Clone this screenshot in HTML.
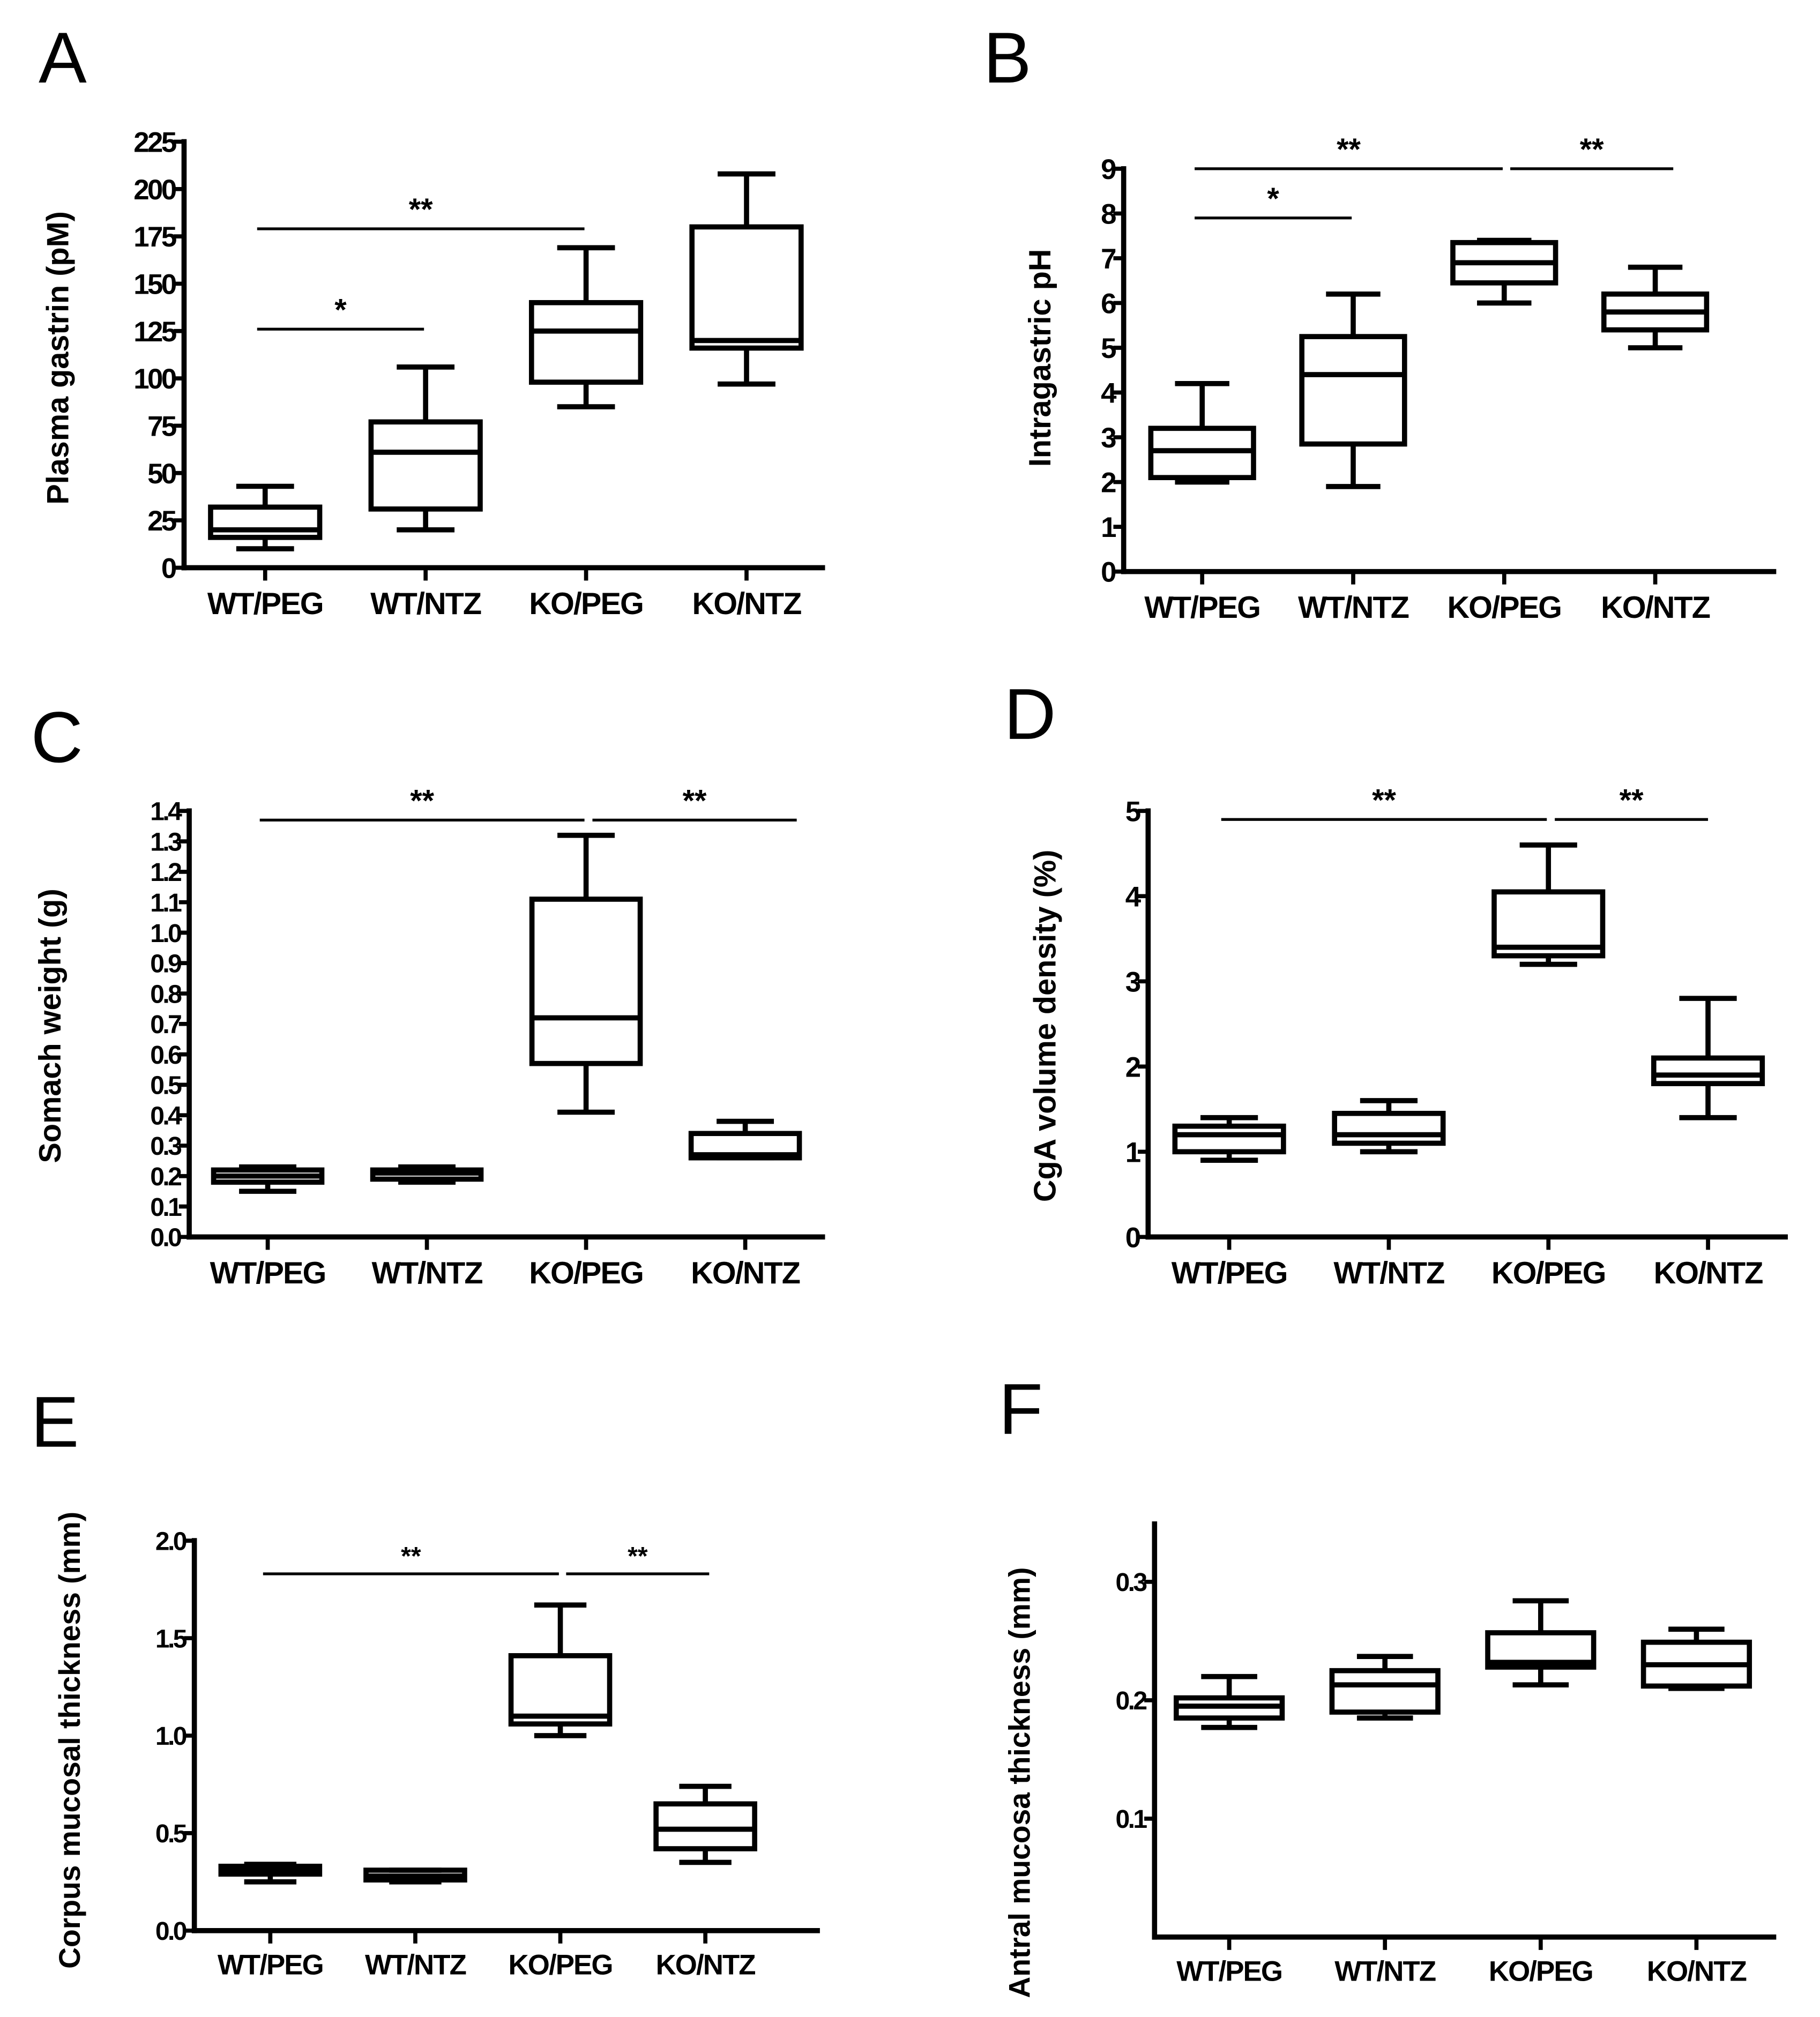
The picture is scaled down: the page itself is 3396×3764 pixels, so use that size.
<!DOCTYPE html>
<html><head><meta charset="utf-8"><style>
html,body{margin:0;padding:0;background:#fff;}
svg{display:block;}
text{font-family:"Liberation Sans",Arial,sans-serif;fill:#000;}
</style></head><body>
<svg id="fig" width="3396" height="3764" viewBox="0 0 1414 1567" xmlns="http://www.w3.org/2000/svg"></svg>
<script>
const categories = ["WT/PEG","WT/NTZ","KO/PEG","KO/NTZ"];
// five-number rows: [min,q1,median,q3,max]
const aBoxes = [[10,16,20,32,43],[20,31,61,77,106],[85,98,125,140,169],[97,116,120,180,208]];
const aTicks = [0,25,50,75,100,125,150,175,200,225];
const aSig = [[0,2,179,"**"],[0,1,126,"*"]];
const bBoxes = [[2.0,2.1,2.7,3.2,4.2],[1.9,2.85,4.4,5.25,6.2],[6.0,6.45,6.9,7.35,7.4],[5.0,5.4,5.8,6.2,6.8]];
const bTicks = [0,1,2,3,4,5,6,7,8,9];
const bSig = [[0,2,9.0,"**"],[2,3,9.0,"**"],[0,1,7.9,"*"]];
const cBoxes = [[0.15,0.18,0.20,0.22,0.23],[0.18,0.19,0.21,0.22,0.23],[0.41,0.57,0.72,1.11,1.32],[0.26,0.26,0.27,0.34,0.38]];
const cTicks = ["0.0","0.1","0.2","0.3","0.4","0.5","0.6","0.7","0.8","0.9","1.0","1.1","1.2","1.3","1.4"];
const cSig = [[0,2,1.37,"**"],[2,3,1.37,"**"]];
const dBoxes = [[0.9,1.0,1.2,1.3,1.4],[1.0,1.1,1.2,1.45,1.6],[3.2,3.3,3.4,4.05,4.6],[1.4,1.8,1.9,2.1,2.8]];
const dTicks = [0,1,2,3,4,5];
const dSig = [[0,2,4.9,"**"],[2,3,4.9,"**"]];
const eBoxes = [[0.25,0.29,0.31,0.33,0.34],[0.25,0.26,0.28,0.31,0.31],[1.0,1.06,1.1,1.41,1.67],[0.35,0.42,0.52,0.65,0.74]];
const eTicks = ["0.0","0.5","1.0","1.5","2.0"];
const eSig = [[0,2,1.83,"**"],[2,3,1.83,"**"]];
const fBoxes = [[0.177,0.185,0.195,0.202,0.22],[0.185,0.19,0.213,0.225,0.237],[0.213,0.228,0.232,0.257,0.284],[0.21,0.212,0.23,0.249,0.26]];
const fTicks = ["0.1","0.2","0.3"];
const fSig = [];

const NS="http://www.w3.org/2000/svg";
const svg=document.getElementById('fig');
function mk(tag,attrs,parent,txt){const e=document.createElementNS(NS,tag);for(const k in attrs)e.setAttribute(k,attrs[k]);if(txt!==undefined)e.textContent=txt;(parent||svg).appendChild(e);return e;}

function panel(p){
  const g=mk('g',{});
  
  
  const y=v=>p.y0-(v-p.vmin)/(p.vmax-p.vmin)*(p.y0-p.y1);
  const sp=(p.cx[3]-p.cx[0])/3;
  const x=i=>p.cx[0]+i*sp;
  const hw=sp*0.34, cw=sp*0.18, lw=p.lw||4;
  const lab=mk('text',{x:p.lx,y:p.ly,'font-size':56},g,p.id);
  
  
  const ya=mk('line',{x1:p.ax,y1:p.ytop,x2:p.ax,y2:p.y0+lw/2,stroke:'#000','stroke-width':lw},g);
  
  
  const xa=mk('line',{x1:p.ax-lw/2,y1:p.y0,x2:p.xr,y2:p.y0,stroke:'#000','stroke-width':lw},g);
  
  
  p.ticks.forEach(t=>{
    const v=parseFloat(t), yy=y(v);
    const tk=mk('line',{x1:p.ax-8,y1:yy,x2:p.ax,y2:yy,stroke:'#000','stroke-width':lw*0.8},g);
    
    
    const tl=mk('text',{x:p.ax-7,y:yy+p.tfs*0.36,'font-size':p.tfs,'font-weight':'bold','text-anchor':'end','letter-spacing':'-1.5'},g,String(t));
    
    
  });
  const tt=mk('text',{x:0,y:0,'font-size':p.yfs,'font-weight':'bold','text-anchor':'middle',transform:`translate(${p.tx},${p.tyc}) rotate(-90)`},g,p.title);
  
  
  categories.forEach((c,i)=>{
    const tk=mk('line',{x1:x(i),y1:p.y0,x2:x(i),y2:p.y0+10,stroke:'#000','stroke-width':lw*0.8},g);
    
    
    const cl=mk('text',{x:x(i),y:p.y0+p.cfs+12,'font-size':p.cfs,'font-weight':'bold','text-anchor':'middle','letter-spacing':'-0.8'},g,c);
    
    
  });
  p.boxes.forEach((b,i)=>{
    const bg=mk('g',{stroke:'#000','stroke-width':lw,fill:'none'},g);
    
    
    const cx=x(i);
    mk('line',{x1:cx,y1:y(b[0]),x2:cx,y2:y(b[1])},bg);
    mk('line',{x1:cx,y1:y(b[3]),x2:cx,y2:y(b[4])},bg);
    mk('line',{x1:cx-cw,y1:y(b[0]),x2:cx+cw,y2:y(b[0])},bg);
    mk('line',{x1:cx-cw,y1:y(b[4]),x2:cx+cw,y2:y(b[4])},bg);
    mk('rect',{x:cx-hw,y:y(b[3]),width:hw*2,height:Math.max(0.5,y(b[1])-y(b[3]))},bg);
    mk('line',{x1:cx-hw,y1:y(b[2]),x2:cx+hw,y2:y(b[2])},bg);
  });
  p.sig.forEach(s=>{
    const x1=x(s[0])+(s[0]===0?-sp*0.05:sp*0.04), x2=x(s[1])+(s[1]===3?(p.endPad||0):-sp*0.01), yy=y(s[2]);
    const l=mk('line',{x1:x1,y1:yy,x2:x2,y2:yy,stroke:'#000','stroke-width':2.2},g);
    
    
    const st=mk('text',{x:(x1+x2)/2,y:yy-7,'font-size':p.sfs,'font-weight':'bold','text-anchor':'middle'},g,s[3]);
    
    
  });
}
panel({id:'A',lx:30,ly:64,ax:143,ytop:108,y0:441,y1:110,vmin:0,vmax:225,xr:641,cx:[206,330,455,580],ticks:aTicks,boxes:aBoxes,sig:aSig,title:'Plasma gastrin  (pM)',tx:53,tyc:278,tfs:22,yfs:24,cfs:24,sfs:24});
panel({id:'B',lx:764,ly:64,ax:873,ytop:129,y0:444,y1:131,vmin:0,vmax:9,xr:1380,cx:[934,1051,1168,1286],ticks:bTicks,boxes:bBoxes,sig:bSig,title:'Intragastric pH',tx:816,tyc:278,tfs:22,yfs:24,cfs:24,sfs:24,endPad:14});
panel({id:'C',lx:24,ly:592,ax:147,ytop:628,y0:961,y1:630,vmin:0,vmax:1.4,xr:641,cx:[208,331,456,579],ticks:cTicks,boxes:cBoxes,sig:cSig,title:'Somach weight (g)',tx:47,tyc:797,tfs:20,yfs:24,cfs:24,sfs:24,endPad:40});
panel({id:'D',lx:780,ly:574,ax:892,ytop:628,y0:961,y1:630,vmin:0,vmax:5,xr:1389,cx:[955,1080,1202,1327],ticks:dTicks,boxes:dBoxes,sig:dSig,title:'CgA volume density (%)',tx:820,tyc:797,tfs:22,yfs:24,cfs:24,sfs:24,endPad:0});
panel({id:'E',lx:24,ly:1124,ax:151,ytop:1195,y0:1500,y1:1197,vmin:0,vmax:2,xr:637,cx:[210,327,437,548],ticks:eTicks,boxes:eBoxes,sig:eSig,title:'Corpus mucosal thickness  (mm)',tx:62,tyc:1352,tfs:20,yfs:23,cfs:22,sfs:20,endPad:3});
panel({id:'F',lx:776,ly:1114,ax:897,ytop:1182,y0:1505,y1:1413,vmin:0,vmax:0.1,xr:1380,cx:[955,1080,1197,1318],ticks:fTicks,boxes:fBoxes,sig:fSig,title:'Antral mucosa thickness  (mm)',tx:800,tyc:1385,tfs:20,yfs:23,cfs:22,sfs:20});
</script>
</body></html>
